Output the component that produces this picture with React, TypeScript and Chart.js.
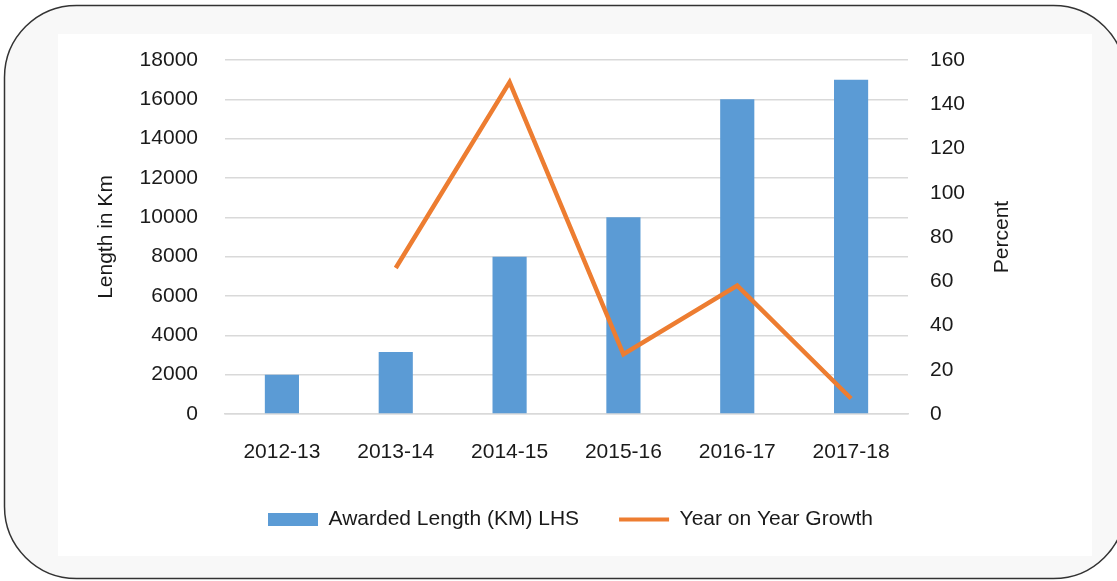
import React, { useEffect, useRef } from "react";
import { Chart, registerables } from "chart.js";

Chart.register(...registerables);

const categories = ["2012-13", "2013-14", "2014-15", "2015-16", "2016-17", "2017-18"];
const awardedLength = [2000, 3150, 8000, 10000, 16000, 17000];
const yoyGrowth = [null, 66, 150, 27, 58, 7];
const leftTitle = "Length in Km";
const rightTitle = "Percent";
const barLabel = "Awarded Length (KM) LHS";
const lineLabel = "Year on Year Growth";

const FONT = "'Liberation Sans', Arial, sans-serif";
const TEXT = "#1a1a1a";
const BLUE = "#5B9BD5";
const ORANGE = "#ED7D31";

const framePlugin = {
  id: "frame",
  beforeDraw(chart: any) {
    const ctx = chart.ctx;
    ctx.save();
    ctx.fillStyle = "#ffffff";
    ctx.fillRect(0, 0, chart.width, chart.height);
    const x = 4.5, y = 5.5, w = 1121, h = 573, r = 72;
    ctx.beginPath();
    ctx.moveTo(x + r, y);
    ctx.lineTo(x + w - r, y);
    ctx.arcTo(x + w, y, x + w, y + r, r);
    ctx.lineTo(x + w, y + h - r);
    ctx.arcTo(x + w, y + h, x + w - r, y + h, r);
    ctx.lineTo(x + r, y + h);
    ctx.arcTo(x, y + h, x, y + h - r, r);
    ctx.lineTo(x, y + r);
    ctx.arcTo(x, y, x + r, y, r);
    ctx.closePath();
    ctx.fillStyle = "#f8f8f8";
    ctx.fill();
    ctx.fillStyle = "#ffffff";
    ctx.fillRect(58, 34, 1034, 522);
    ctx.lineWidth = 1.5;
    ctx.strokeStyle = "#333333";
    ctx.stroke();
    ctx.restore();
  },
  afterDraw(chart: any) {
    const ctx = chart.ctx;
    const area = chart.chartArea;
    const cy = (area.top + area.bottom) / 2;
    ctx.save();
    ctx.fillStyle = TEXT;
    ctx.font = `21px ${FONT}`;
    ctx.textAlign = "center";
    ctx.textBaseline = "middle";
    ctx.translate(106, cy);
    ctx.rotate(-Math.PI / 2);
    ctx.fillText(leftTitle, 0, 0);
    ctx.restore();
    ctx.save();
    ctx.fillStyle = TEXT;
    ctx.font = `21px ${FONT}`;
    ctx.textAlign = "center";
    ctx.textBaseline = "middle";
    ctx.translate(1002, cy);
    ctx.rotate(-Math.PI / 2);
    ctx.fillText(rightTitle, 0, 0);
    ctx.restore();
  },
};

export default function App() {
  const ref = useRef<HTMLCanvasElement>(null);

  useEffect(() => {
    if (!ref.current) return;
    const chart = new Chart(ref.current, {
      data: {
        labels: categories,
        datasets: [
          {
            type: "bar",
            label: barLabel,
            data: awardedLength,
            backgroundColor: BLUE,
            borderWidth: 0,
            yAxisID: "y",
            order: 1,
            barPercentage: 0.3,
            categoryPercentage: 1,
          },
          {
            type: "line",
            label: lineLabel,
            data: yoyGrowth,
            borderColor: ORANGE,
            backgroundColor: ORANGE,
            borderWidth: 4.5,
            pointRadius: 0,
            tension: 0,
            yAxisID: "y1",
            order: 0,
          },
        ],
      } as any,
      options: {
        animation: false,
        responsive: false,
        devicePixelRatio: 1,
        layout: { padding: { left: 24, right: 0, top: 60, bottom: 41 } },
        plugins: {
          tooltip: { enabled: false },
          legend: {
            position: "bottom",
            labels: {
              font: { family: FONT, size: 21 },
              color: TEXT,
              usePointStyle: true,
              pointStyleWidth: 50,
              boxHeight: 13,
              padding: 40,
              generateLabels: () => [
                {
                  text: barLabel,
                  fillStyle: BLUE,
                  strokeStyle: BLUE,
                  lineWidth: 0,
                  pointStyle: "rect",
                  datasetIndex: 0,
                  fontColor: TEXT,
                },
                {
                  text: lineLabel,
                  fillStyle: ORANGE,
                  strokeStyle: ORANGE,
                  lineWidth: 4,
                  pointStyle: "line",
                  datasetIndex: 1,
                  fontColor: TEXT,
                },
              ],
            },
          },
        },
        scales: {
          x: {
            grid: { display: false, drawTicks: false },
            border: { display: true, color: "#d9d9d9", width: 1.5 },
            ticks: { font: { family: FONT, size: 21 }, color: TEXT, padding: 26, maxRotation: 0 },
            afterFit: (s: any) => { s.height = 55; },
          },
          y: {
            position: "left",
            min: 0,
            max: 18000,
            grid: { color: "#d9d9d9", lineWidth: 1.5, drawTicks: false },
            border: { display: false },
            ticks: {
              stepSize: 2000,
              font: { family: FONT, size: 21 },
              color: TEXT,
              padding: 27,
              callback: (v: any) => String(v),
            },
            afterFit: (s: any) => { s.width = 201; },
          },
          y1: {
            position: "right",
            min: 0,
            max: 160,
            grid: { drawOnChartArea: false, drawTicks: false },
            border: { display: false },
            ticks: {
              stepSize: 20,
              font: { family: FONT, size: 21 },
              color: TEXT,
              padding: 22,
              callback: (v: any) => String(v),
            },
            afterFit: (s: any) => { s.width = 209; },
          },
        },
      } as any,
      plugins: [framePlugin],
    });
    return () => chart.destroy();
  }, []);

  return (
    <div style={{ position: "fixed", left: 0, top: 0, width: 1117, height: 581 }}>
      <canvas ref={ref} width={1117} height={581} style={{ width: 1117, height: 581, display: "block" }} />
    </div>
  );
}
